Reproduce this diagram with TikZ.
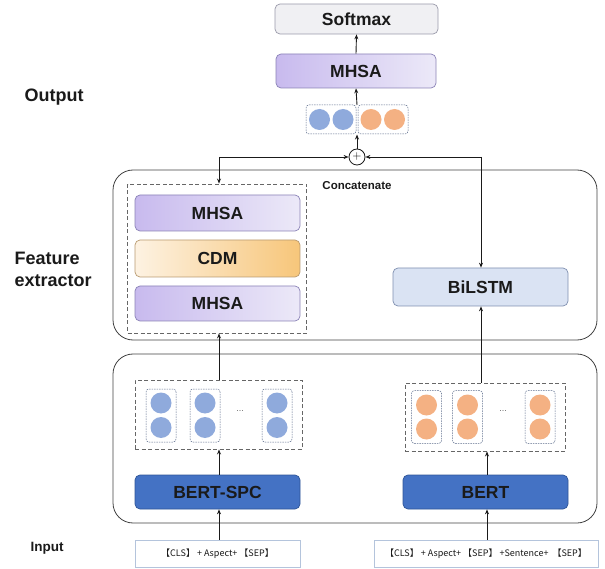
\documentclass[tikz,border=0pt]{standalone}
\usepackage{fontspec}
\setmainfont{Liberation Sans}
\newfontfamily\cjk{Noto Sans CJK SC}
\usetikzlibrary{arrows.meta}
\definecolor{txt}{HTML}{1A1A1A}
\definecolor{purpL}{HTML}{C8BAEE}
\definecolor{purpR}{HTML}{ECE9F8}
\definecolor{purpB}{HTML}{8A82B6}
\definecolor{orgL}{HTML}{FDF2E2}
\definecolor{orgR}{HTML}{F7C67A}
\definecolor{orgB}{HTML}{B89A70}
\definecolor{smF}{HTML}{F0F0F3}
\definecolor{smB}{HTML}{9A9AAA}
\definecolor{blF}{HTML}{DAE3F3}
\definecolor{blB}{HTML}{7F8FB0}
\definecolor{bertF}{HTML}{4472C4}
\definecolor{bertB}{HTML}{2F5597}
\definecolor{cBlue}{HTML}{8FAADC}
\definecolor{cOrg}{HTML}{F4B183}
\definecolor{dashB}{HTML}{5A6A8A}
\definecolor{inB}{HTML}{B4C4DC}
\tikzset{
  arr/.style={-{Stealth[length=5pt,width=4pt]}, line width=0.9pt, txt},
  lbl/.style={font=\fontsize{17.5}{20}\selectfont\bfseries, text=txt},
  boxbase/.style={rounded corners=5pt, line width=0.7pt, inner sep=0pt, lbl},
  purpbox/.style={boxbase, draw=purpB, left color=purpL, right color=purpR},
  orgbox/.style={boxbase, draw=orgB, left color=orgL, right color=orgR},
  smbox/.style={boxbase, draw=smB, fill=smF},
  blbox/.style={boxbase, draw=blB, fill=blF},
  bertbox/.style={boxbase, draw=bertB, fill=bertF, text=txt},
  bigbox/.style={draw=black!75, line width=0.8pt, rounded corners=20pt, inner sep=0pt},
  gdash/.style={draw=black!60, dashed, dash pattern=on 4pt off 2.5pt, line width=0.9pt, inner sep=0pt},
  sdash/.style={draw=dashB, dashed, dash pattern=on 1.5pt off 1pt, line width=0.5pt, rounded corners=3pt, inner sep=0pt},
  dotB/.style={circle, fill=cBlue, minimum size=21pt, inner sep=0pt},
  dotO/.style={circle, fill=cOrg, minimum size=21pt, inner sep=0pt},
  inbox/.style={draw=inB, line width=0.8pt, fill=white, inner sep=0pt, font=\cjk\fontsize{9}{11}\selectfont, text=txt},
  side/.style={font=\fontsize{18}{22}\selectfont\bfseries, text=txt, align=left},
}
\begin{document}
\begin{tikzpicture}[x=1pt,y=-1pt]
\useasboundingbox (0,0) rectangle (605,569);

% big containers
\node[bigbox, minimum width=484pt, minimum height=170pt] (fe) at (355,255) {};
\node[bigbox, minimum width=484pt, minimum height=169pt] (emb) at (355,438.5) {};

% output part
\node[smbox, minimum width=163pt, minimum height=30pt] (soft) at (356.5,19) {Softmax};
\node[purpbox, minimum width=160pt, minimum height=34pt] (mhsaT) at (356,71) {MHSA};
\node[sdash, minimum width=50pt, minimum height=29pt] (vl) at (331,119.5) {};
\node[sdash, minimum width=50pt, minimum height=29pt] (vr) at (383,119.5) {};
\node[dotB] (b1) at (319.5,119.5) {};
\node[dotB] (b2) at (343,119.5) {};
\node[dotO] (o1) at (371,119.5) {};
\node[dotO] (o2) at (394.5,119.5) {};
\coordinate (vtop) at (357,105);
\coordinate (vbot) at (357,134.5);
\node[circle, draw=txt, line width=0.8pt, fill=white, minimum size=16pt, inner sep=0pt, font=\fontsize{12}{12}\selectfont] (plus) at (357,157) {$+$};
\coordinate (cl) at (219,157);
\coordinate (cr) at (481,157);
\coordinate (rx) at (487,0);
\node[font=\fontsize{11.5}{13}\selectfont\bfseries, text=txt] (concat) at (357,185.5) {Concatenate};

% feature extractor
\node[gdash, minimum width=179pt, minimum height=149pt] (fx) at (217,258.5) {};
\node[purpbox, minimum width=165pt, minimum height=36pt] (m1) at (217.5,213) {MHSA};
\node[orgbox, minimum width=165pt, minimum height=37pt] (cdm) at (217.5,258.5) {CDM};
\node[purpbox, minimum width=165pt, minimum height=35pt] (m2) at (217.5,303.5) {MHSA};
\node[blbox, minimum width=175pt, minimum height=38pt] (bil) at (480.5,287) {BiLSTM};

% embeddings left
\node[gdash, minimum width=167pt, minimum height=69pt] (lv) at (218.5,414.5) {};
\foreach \i/\x in {1/161,2/205,3/277} {
  \node[sdash, minimum width=30pt, minimum height=53pt] (lb\i) at (\x,415.5) {};
  \node[dotB] (lb\i a) at (\x,403) {};
  \node[dotB] (lb\i b) at (\x,427.5) {};
}
\node[font=\fontsize{9}{10}\selectfont, text=black!60] (ldots) at (240,411) {...};

% embeddings right
\node[gdash, minimum width=160pt, minimum height=68pt] (rv) at (485,417) {};
\foreach \i/\x in {1/426.5,2/467.5,3/540} {
  \node[sdash, minimum width=30pt, minimum height=53pt] (rb\i) at (\x,417) {};
  \node[dotO] (rb\i a) at (\x,405) {};
  \node[dotO] (rb\i b) at (\x,429) {};
}
\node[font=\fontsize{9}{10}\selectfont, text=black!60] (rdots) at (503,411) {...};

% encoders
\node[bertbox, minimum width=165pt, minimum height=34pt] (bspc) at (217.5,492) {BERT-SPC};
\node[bertbox, minimum width=165pt, minimum height=34pt] (bert) at (485.5,492) {BERT};

% inputs
\node[inbox, minimum width=165pt, minimum height=27pt] (inL) at (217.5,553.5) {【CLS】 + Aspect+ 【SEP】};
\node[inbox, minimum width=224pt, minimum height=27pt] (inR) at (486,553.5) {【CLS】 + Aspect+ 【SEP】 +Sentence+ \ 【SEP】};

% side labels
\node[side, anchor=west] (lout) at (21,97) {Output};
\node[side, anchor=west] (lfe) at (11,269) {Feature\\extractor};
\node[font=\fontsize{13.5}{15}\selectfont\bfseries, text=txt, anchor=west] (lin) at (27,548) {Input};

% connectors
\draw[arr] (mhsaT.north) -- (soft.south);
\draw[arr] (vtop) -- (mhsaT.south);
\draw[arr] (plus.north) -- (vbot);
\draw[arr] (cl) -- (plus.west);
\draw[arr] (cr) -- (plus.east);
\draw[arr] (cl) -- (cl |- fx.north);
\draw[arr] (cr) -- (cr |- bil.north);
\draw[arr] (cl |- lv.north) -- (cl |- fx.south);
\draw[arr] (cr |- rv.north) -- (cr |- bil.south);
\draw[arr] (cl |- bspc.north) -- (cl |- lv.south);
\draw[arr] (cl |- inL.north) -- (cl |- bspc.south);
\draw[arr] (rx |- bert.north) -- (rx |- rv.south);
\draw[arr] (rx |- inR.north) -- (rx |- bert.south);
\end{tikzpicture}
\end{document}
